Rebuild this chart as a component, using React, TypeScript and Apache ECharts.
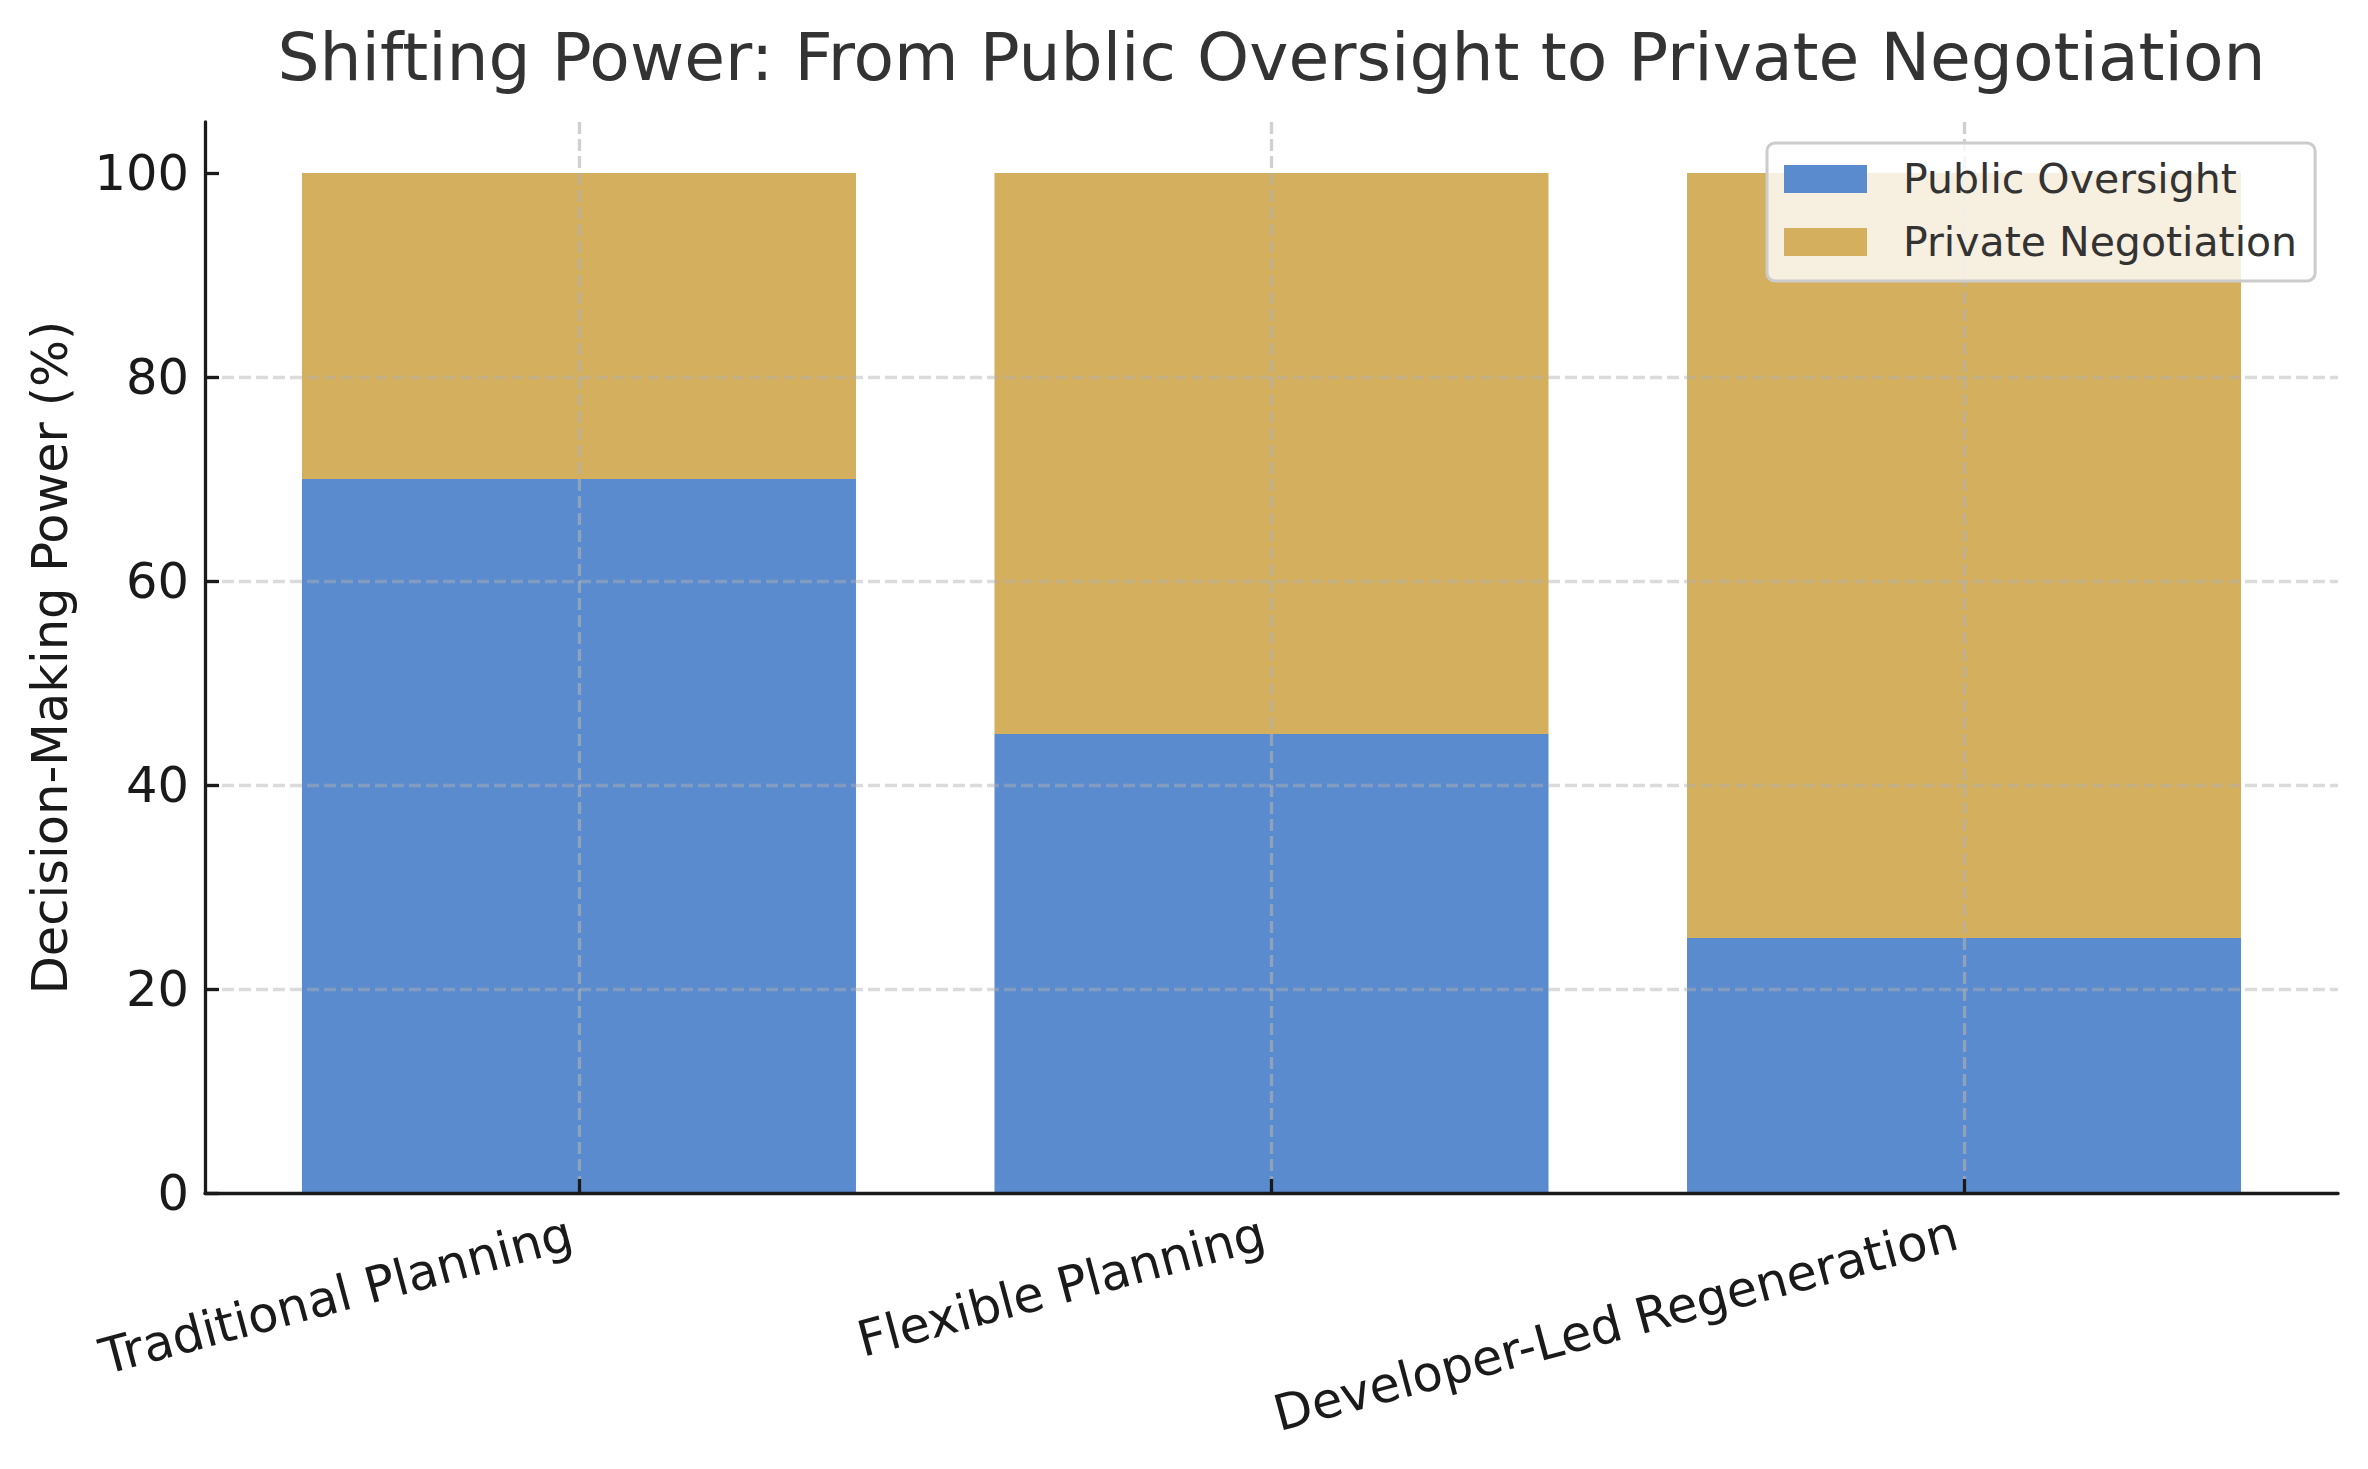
import React, { useEffect, useRef } from "react";
import * as echarts from "echarts";

// ---- data ----
const CATEGORIES = ["Traditional Planning", "Flexible Planning", "Developer-Led Regeneration"];
const PUBLIC_OVERSIGHT = [70, 45, 25];
const PRIVATE_NEGOTIATION = [30, 55, 75];
const Y_TICKS = [0, 20, 40, 60, 80, 100];
const X_TICKS = [0, 1, 2];
const SERIES_NAMES = ["Public Oversight", "Private Negotiation"];

// ---- layout / style ----
const W = 2368;
const H = 1469;
const PLOT_LEFT = 205;
const PLOT_RIGHT = 2338;
const PLOT_TOP = 122;
const PLOT_BOTTOM = 1193;
const X_MIN = -0.54;
const X_MAX = 2.54;
const Y_MAX = 105;
const FONT = "DejaVu Sans";
const BLUE = "#5B8BCF";
const GOLD = "#D4B05E";
const INK = "#1a1a1a";

export default function App() {
  const ref = useRef<HTMLDivElement>(null);

  useEffect(() => {
    document.body.style.margin = "0";
    const chart = echarts.init(ref.current!, null, { renderer: "svg" });
    const plotW = PLOT_RIGHT - PLOT_LEFT;
    const unit = plotW / (X_MAX - X_MIN);
    // inner band grid covering categories from -0.5 to n-0.5
    const bandLeft = PLOT_LEFT + (-0.5 - X_MIN) * unit;
    const bandRight = PLOT_RIGHT - (X_MAX - (CATEGORIES.length - 0.5)) * unit;

    const option: any = {
      animation: false,
      backgroundColor: "#ffffff",
      textStyle: { fontFamily: FONT },
      title: {
        text: "Shifting Power: From Public Oversight to Private Negotiation",
        left: (PLOT_LEFT + PLOT_RIGHT) / 2,
        textAlign: "center",
        top: 24,
        padding: 0,
        textStyle: {
          fontFamily: FONT,
          fontSize: 66.3,
          fontWeight: "normal",
          color: "#333333",
          lineHeight: 66,
        },
      },
      legend: {
        orient: "vertical",
        left: 1767,
        top: 143,
        data: SERIES_NAMES,
        icon: "rect",
        itemWidth: 83,
        itemHeight: 28,
        itemGap: 13,
        padding: [11, 18, 14, 17],
        backgroundColor: "rgba(255,255,255,0.8)",
        borderColor: "#cccccc",
        borderWidth: 3,
        borderRadius: 8,
        z: 10,
        textStyle: {
          fontFamily: FONT,
          fontSize: 41,
          lineHeight: 50,
          color: "#333333",
          padding: [0, 0, 0, 31],
        },
      },
      grid: [
        {
          left: PLOT_LEFT,
          right: W - PLOT_RIGHT,
          top: PLOT_TOP,
          bottom: H - PLOT_BOTTOM,
          containLabel: false,
        },
        {
          left: bandLeft,
          right: W - bandRight,
          top: PLOT_TOP,
          bottom: H - PLOT_BOTTOM,
          containLabel: false,
        },
      ],
      xAxis: [
        {
          type: "value",
          gridIndex: 0,
          min: X_MIN,
          max: X_MAX,
          z: 3,
          axisLine: { show: true, onZero: false, lineStyle: { color: INK, width: 3.3 } },
          axisTick: {
            show: true,
            inside: true,
            length: 14,
            customValues: X_TICKS,
            lineStyle: { color: INK, width: 3.3 },
          },
          axisLabel: {
            show: true,
            customValues: X_TICKS,
            rotate: 15,
            margin: 37,
            padding: [0, 8, 0, 0],
            fontFamily: FONT,
            fontSize: 49.5,
            color: INK,
            formatter: (v: number) => CATEGORIES[Math.round(v)] ?? "",
          },
          splitLine: {
            show: true,
            showMinLine: true,
            showMaxLine: true,
            lineStyle: { color: "rgba(176,176,176,0.6)", width: 3.3, type: [12, 5] },
          },
        },
        {
          type: "category",
          gridIndex: 1,
          data: CATEGORIES,
          show: false,
        },
      ],
      yAxis: [
        {
          type: "value",
          gridIndex: 0,
          min: 0,
          max: Y_MAX,
          z: 3,
          name: "Decision-Making Power (%)",
          nameLocation: "middle",
          nameGap: 130,
          nameTextStyle: { fontFamily: FONT, fontSize: 49.5, color: INK },
          axisLine: { show: true, onZero: false, lineStyle: { color: INK, width: 3.3 } },
          axisTick: {
            show: true,
            inside: true,
            length: 14,
            customValues: Y_TICKS,
            lineStyle: { color: INK, width: 3.3 },
          },
          axisLabel: {
            show: true,
            customValues: Y_TICKS,
            margin: 16,
            fontFamily: FONT,
            fontSize: 49.5,
            color: INK,
          },
          splitLine: {
            show: true,
            showMinLine: false,
            showMaxLine: false,
            lineStyle: { color: "rgba(176,176,176,0.45)", width: 3.3, type: [12, 5] },
          },
        },
        {
          type: "value",
          gridIndex: 1,
          min: 0,
          max: Y_MAX,
          show: false,
          splitLine: { show: false },
        },
      ],
      series: [
        {
          name: SERIES_NAMES[0],
          type: "bar",
          xAxisIndex: 1,
          yAxisIndex: 1,
          stack: "total",
          barWidth: "80%",
          itemStyle: { color: BLUE },
          data: PUBLIC_OVERSIGHT,
        },
        {
          name: SERIES_NAMES[1],
          type: "bar",
          xAxisIndex: 1,
          yAxisIndex: 1,
          stack: "total",
          barWidth: "80%",
          itemStyle: { color: GOLD },
          data: PRIVATE_NEGOTIATION,
        },
      ],
    };

    chart.setOption(option);
    return () => chart.dispose();
  }, []);

  return <div ref={ref} style={{ width: W, height: H }} />;
}
